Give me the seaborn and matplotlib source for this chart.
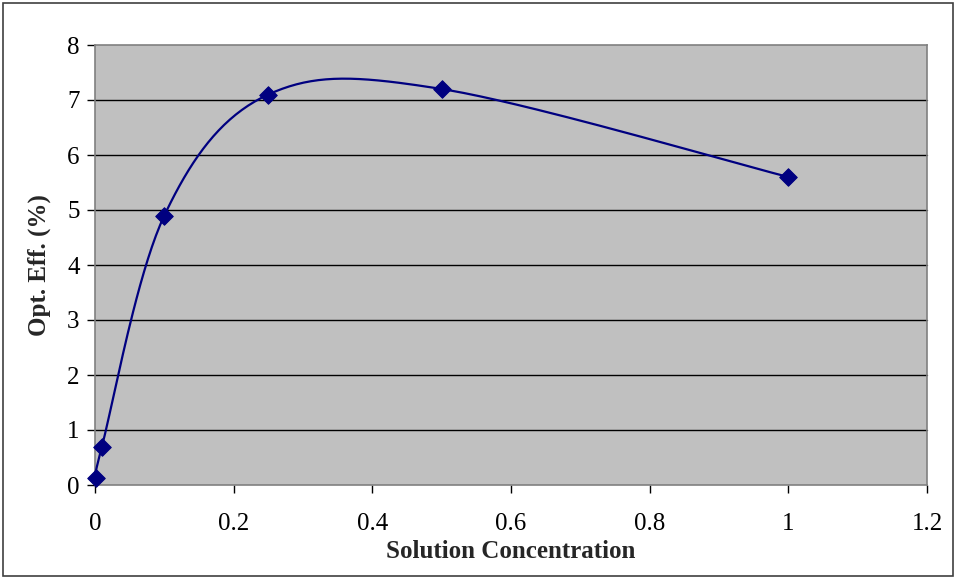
import numpy as np
import pandas as pd
import matplotlib
matplotlib.use("Agg")
import matplotlib.pyplot as plt
import seaborn as sns
from matplotlib.ticker import FuncFormatter

conc = [0.001, 0.01, 0.1, 0.25, 0.5, 1.0]
eff = [0.12, 0.7, 4.9, 7.1, 7.2, 5.6]
x_ticks = [0, 0.2, 0.4, 0.6, 0.8, 1.0, 1.2]
y_ticks = [0, 1, 2, 3, 4, 5, 6, 7, 8]

df = pd.DataFrame({"conc": conc, "eff": eff})

sns.set_theme(style="white")
plt.rcParams['font.family'] = ['Liberation Serif', 'DejaVu Serif']

fig = plt.figure(figsize=(9.56, 5.78), dpi=100)
ax = fig.add_axes([95/956, 1 - 485/578, (927-95)/956, (485-45)/578])
ax.set_facecolor('#C0C0C0')

ax.set_xlim(0, 1.2)
ax.set_ylim(0, 8)

# Excel-style Bezier smoothing computed in screen space
fig.canvas.draw()
pts = ax.transData.transform(np.column_stack([df["conc"], df["eff"]]))
n = len(pts)
curve = []
for i in range(n - 1):
    p0 = pts[max(i - 1, 0)]
    p1 = pts[i]
    p2 = pts[i + 1]
    p3 = pts[min(i + 2, n - 1)]
    c1 = p1 + (p2 - p0) / 6.0
    c2 = p2 - (p3 - p1) / 6.0
    t = np.linspace(0, 1, 40)[:, None]
    seg = ((1 - t) ** 3) * p1 + 3 * ((1 - t) ** 2) * t * c1 + 3 * (1 - t) * t ** 2 * c2 + t ** 3 * p2
    curve.append(seg if i == 0 else seg[1:])
curve = np.vstack(curve)
curve_data = ax.transData.inverted().transform(curve)
smooth = pd.DataFrame({"conc": curve_data[:, 0], "eff": curve_data[:, 1]})

for yv in y_ticks[1:-1]:
    ax.axhline(yv, color='black', lw=1.0, zorder=1)

sns.lineplot(data=smooth, x="conc", y="eff", sort=False, color='#000080', lw=1.6, ax=ax, zorder=3)
sc = sns.scatterplot(data=df, x="conc", y="eff", marker='D', s=80, color='#000080',
                     edgecolor='#000080', ax=ax, zorder=4)
for coll in ax.collections:
    coll.set_clip_on(False)
for ln in ax.lines:
    ln.set_clip_on(False)

ax.set_xticks(x_ticks)
ax.set_yticks(y_ticks)
ax.xaxis.set_major_formatter(FuncFormatter(lambda v, p: f"{v:g}"))
ax.yaxis.set_major_formatter(FuncFormatter(lambda v, p: f"{v:g}"))
ax.tick_params(axis='both', which='major', direction='out', length=6, width=1,
               color='black', labelsize=18, colors='black', bottom=True, left=True)
ax.tick_params(axis='x', pad=14)
ax.tick_params(axis='y', pad=5)
for s in ax.spines.values():
    s.set_color('#808080')
    s.set_linewidth(1.2)

ax.set_xlabel("Solution Concentration", fontsize=18, fontweight='bold', labelpad=4)
ax.set_ylabel("Opt. Eff. (%)", fontsize=18, fontweight='bold', labelpad=12)

# outer chart border
fig.patches.append(plt.Rectangle((3/956, 2/578), 950/956, 573/578, transform=fig.transFigure,
                                 fill=False, edgecolor='#404040', lw=1.2))

fig.savefig("out.png", dpi=100)
